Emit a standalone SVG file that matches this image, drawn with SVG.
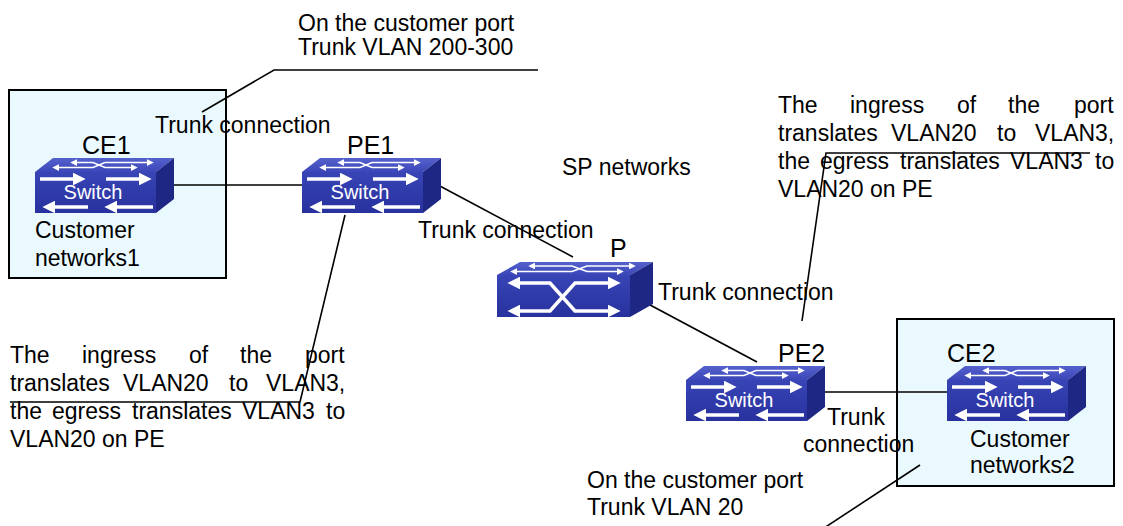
<svg xmlns="http://www.w3.org/2000/svg" width="1123" height="526" viewBox="0 0 1123 526">
<style>
.t{font-family:"Liberation Sans",Arial,sans-serif;font-size:23px;fill:#000}
.lbl{font-family:"Liberation Sans",Arial,sans-serif;font-size:25px;fill:#000}
.sw{font-family:"Liberation Sans",Arial,sans-serif;font-size:20px;fill:#fff;text-anchor:middle}
.box{fill:#eaf9fd;stroke:#000;stroke-width:2}
.ln{stroke:#000;stroke-width:1.6;fill:none}
.front{fill:url(#gf)}
.top{fill:url(#gt)}
.side{fill:#1e2884}
.wa{stroke:#fff;stroke-width:3.5;fill:none}
.wt{stroke:#fff;stroke-width:1.5;fill:none}
</style>
<defs>
<linearGradient id="gf" x1="0" y1="0" x2="0" y2="1"><stop offset="0" stop-color="#3944b6"/><stop offset="1" stop-color="#27329e"/></linearGradient>
<linearGradient id="gt" x1="0" y1="0" x2="0" y2="1"><stop offset="0" stop-color="#5561cc"/><stop offset="1" stop-color="#3b47b8"/></linearGradient>
<marker id="ah" viewBox="0 0 10 10" refX="0" refY="5" markerWidth="3.6" markerHeight="3.6" orient="auto-start-reverse"><path d="M0,0 L10,5 L0,10 z" fill="#fff"/></marker>
<marker id="ahs" viewBox="0 0 10 10" refX="0" refY="5" markerWidth="4.5" markerHeight="4.5" orient="auto-start-reverse"><path d="M0,0 L10,5 L0,10 z" fill="#fff"/></marker>
<g id="switch">
<polygon class="top" points="0,14 18,0 139,0 121,14"/>
<rect class="front" x="0" y="14" width="121" height="41"/>
<polygon class="side" points="121,14 139,0 139,41 121,55"/>
<path class="wt" d="M24,9.5 H58 L70,4.5 H112" marker-start="url(#ahs)" marker-end="url(#ahs)"/>
<path class="wt" d="M42,4.5 H58 L70,9.5 H96" marker-start="url(#ahs)" marker-end="url(#ahs)"/>
<path class="wa" d="M5,21 H38" marker-end="url(#ah)"/>
<path class="wa" d="M71,21 H104" marker-end="url(#ah)"/>
<path class="wa" d="M20,49 H53" marker-start="url(#ah)"/>
<path class="wa" d="M82,49 H118" marker-start="url(#ah)"/>
<text class="sw" x="58" y="41">Switch</text>
</g>
<g id="pswitch">
<polygon class="top" points="0,13 23,0 156,0 133,13"/>
<rect class="front" x="0" y="13" width="133" height="42"/>
<polygon class="side" points="133,13 156,0 156,42 133,55"/>
<path class="wt" d="M20,9.5 H75 L90,4 H132" marker-start="url(#ahs)" marker-end="url(#ahs)"/>
<path class="wt" d="M38,4 H75 L90,9.5 H120" marker-start="url(#ahs)" marker-end="url(#ahs)"/>
<path class="wa" d="M23,21 H53 L78,49 H111" marker-start="url(#ah)" marker-end="url(#ah)"/>
<path class="wa" d="M23,49 H53 L78,21 H111" marker-start="url(#ah)" marker-end="url(#ah)"/>
</g>
</defs>
<rect width="1123" height="526" fill="#fff"/>
<g id="site1"><rect class="box" x="9" y="90" width="217" height="188"/></g>
<g id="site2"><rect class="box" x="897" y="319" width="217" height="167"/></g>
<g id="connectors">
<line class="ln" x1="172" y1="185" x2="302" y2="185"/>
<line class="ln" x1="438" y1="185" x2="573" y2="257"/>
<line class="ln" x1="637" y1="298" x2="757" y2="362"/>
<line class="ln" x1="824" y1="392" x2="947" y2="392"/>
</g>
<g id="callout-lines">
<polyline class="ln" points="202,112 274,70 538,70"/>
<polyline class="ln" points="345,215 300,402 10,402"/>
<polyline class="ln" points="802,321 826,153 1090,153"/>
<line class="ln" x1="920" y1="465" x2="818" y2="532"/>
</g>
<g id="CE1"><use href="#switch" x="35" y="158"/><text class="lbl" x="82" y="154">CE1</text><text class="t" x="35" y="238">Customer</text><text class="t" x="35" y="266">networks1</text></g>
<g id="PE1"><use href="#switch" x="302" y="158"/><text class="lbl" x="347" y="154">PE1</text></g>
<g id="P"><use href="#pswitch" x="497" y="262"/><text class="lbl" x="610" y="257">P</text></g>
<g id="PE2"><use href="#switch" x="686" y="366"/><text class="lbl" x="778" y="362">PE2</text></g>
<g id="CE2"><use href="#switch" x="947" y="366"/><text class="lbl" x="947" y="362">CE2</text><text class="t" x="970" y="447">Customer</text><text class="t" x="970" y="473">networks2</text></g>
<g id="labels">
<text class="t" x="155" y="133">Trunk connection</text>
<text class="t" x="562" y="175">SP networks</text>
<text class="t" x="418" y="238">Trunk connection</text>
<text class="t" x="658" y="300">Trunk connection</text>
<text class="t" x="827" y="425">Trunk</text>
<text class="t" x="803" y="452">connection</text>
<text class="t" x="298" y="31">On the customer port</text>
<text class="t" x="298" y="55">Trunk VLAN 200-300</text>
<text class="t" x="587" y="488">On the customer port</text>
<text class="t" x="587" y="515">Trunk VLAN 20</text>
</g>
<g id="note-left">
<text class="t" y="363"><tspan x="10">The</tspan><tspan x="82">ingress</tspan><tspan x="189">of</tspan><tspan x="240">the</tspan><tspan x="305">port</tspan></text>
<text class="t" y="391"><tspan x="10">translates</tspan><tspan x="123">VLAN20</tspan><tspan x="229">to</tspan><tspan x="266">VLAN3,</tspan></text>
<text class="t" y="419"><tspan x="10">the</tspan><tspan x="52">egress</tspan><tspan x="132">translates</tspan><tspan x="242">VLAN3</tspan><tspan x="326">to</tspan></text>
<text class="t" x="10" y="447">VLAN20 on PE</text>
</g>
<g id="note-right">
<text class="t" y="113"><tspan x="778">The</tspan><tspan x="850">ingress</tspan><tspan x="957">of</tspan><tspan x="1008">the</tspan><tspan x="1074">port</tspan></text>
<text class="t" y="141"><tspan x="778">translates</tspan><tspan x="891">VLAN20</tspan><tspan x="997">to</tspan><tspan x="1035">VLAN3,</tspan></text>
<text class="t" y="169"><tspan x="778">the</tspan><tspan x="820">egress</tspan><tspan x="900">translates</tspan><tspan x="1010">VLAN3</tspan><tspan x="1095">to</tspan></text>
<text class="t" x="778" y="197">VLAN20 on PE</text>
</g>
</svg>
